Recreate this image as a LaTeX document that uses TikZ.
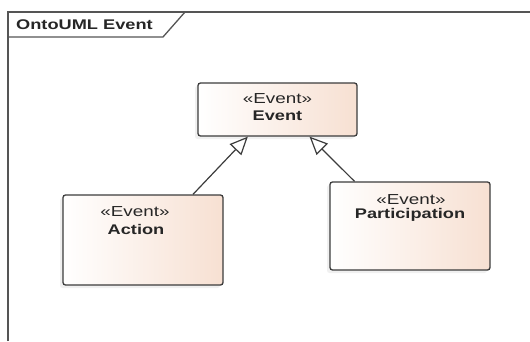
\documentclass[tikz,border=0pt]{standalone}
\usepackage{fontspec}
\newfontfamily\lab[FakeStretch=1.3]{Liberation Sans}
\usetikzlibrary{arrows.meta,calc,shadows}
\definecolor{edge}{RGB}{60,60,60}
\definecolor{peach}{RGB}{247,224,210}
\definecolor{framec}{RGB}{85,85,85}
\tikzset{
  cls/.style={rectangle, rounded corners=2.5pt, draw=edge, line width=1.3pt,
    left color=white, right color=peach, inner sep=0pt,
    drop shadow={opacity=0.12, shadow xshift=-3pt, shadow yshift=-3pt}},
  stereo/.style={font=\lab\fontsize{14.5}{17}\selectfont, text=black!85, inner sep=0pt},
  cname/.style={font=\lab\bfseries\fontsize{14}{16}\selectfont, text=black!85, inner sep=0pt},
  gen/.style={draw=edge, line width=1.2pt, -{Triangle[open, length=18pt, width=16pt, fill=white]}},
  framel/.style={draw=framec, line width=1.3pt}
}
\begin{document}
\begin{tikzpicture}[x=1pt,y=1pt]
\useasboundingbox (0,0) rectangle (530,341);
% frame
\draw[framel] (8,0) -- (8,329) -- (530,329);
\draw[framel] (185,329) -- (163,304) -- (8,304);
\node[cname, anchor=west] (title) at (16,316.5) {OntoUML Event};
% classes
\node[cls, minimum width=159pt, minimum height=53pt] (ev) at (277.5,231.5) {};
\node[cls, minimum width=160pt, minimum height=90pt] (act) at (143,101) {};
\node[cls, minimum width=160pt, minimum height=88pt] (par) at (410,115) {};
% labels
\node[stereo] (evs) at ($(ev.north)+(0,-16.5)$) {«Event»};
\node[cname] (evn) at ($(ev.north)+(0,-33)$) {Event};
\node[stereo] (acts) at ($(act.north)+(-8,-17.5)$) {«Event»};
\node[cname] (actn) at ($(act.north)+(-7,-35)$) {Action};
\node[stereo] (pars) at ($(par.north)+(1,-18)$) {«Event»};
\node[cname] (parn) at ($(par.north)+(0,-34)$) {Participation};
% generalizations
\draw[gen] ($(act.north west)!0.81!(act.north east)$) -- ($(ev.south west)!0.315!(ev.south east)$);
\draw[gen] ($(par.north west)!0.156!(par.north east)$) -- ($(ev.south west)!0.70!(ev.south east)$);
\end{tikzpicture}
\end{document}
